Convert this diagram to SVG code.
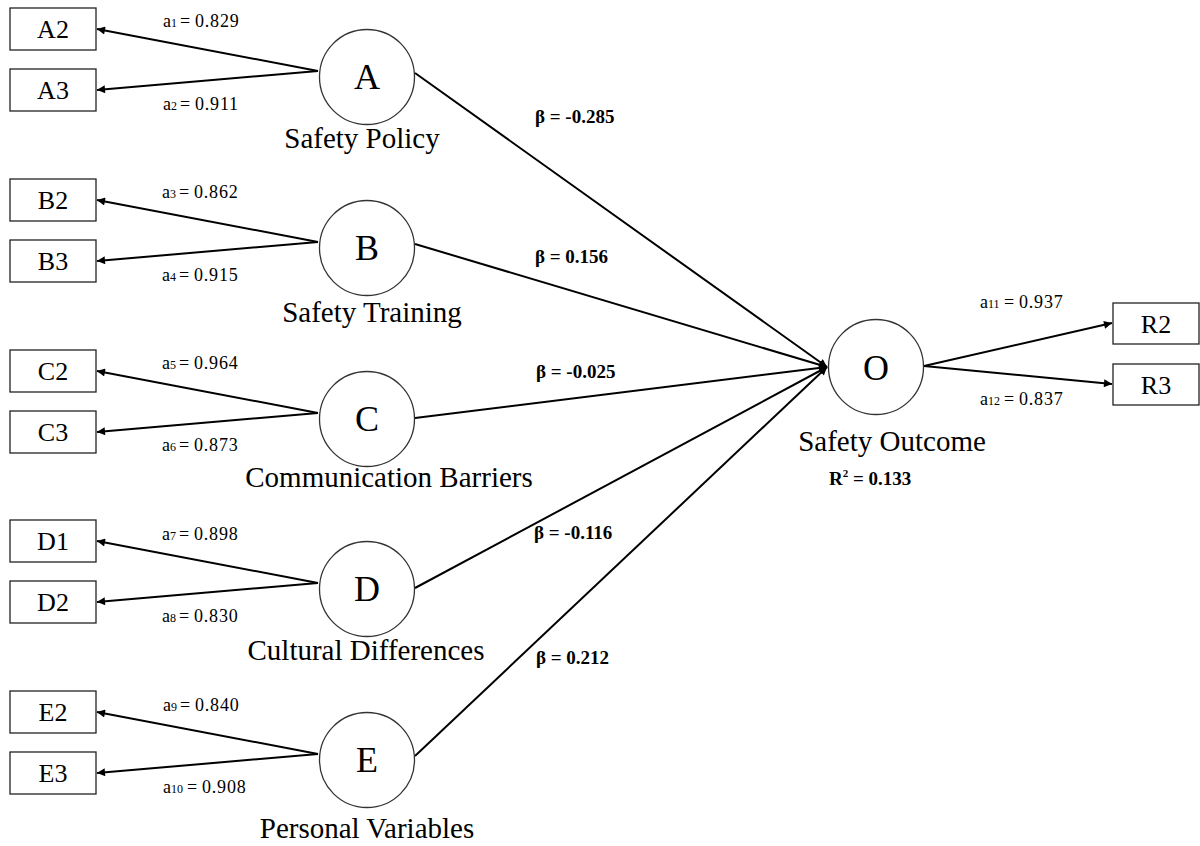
<svg xmlns="http://www.w3.org/2000/svg" width="1200" height="846" viewBox="0 0 1200 846">
  <style>
    .bg { fill: #ffffff; }
    .box { fill: #ffffff; stroke: #222222; stroke-width: 1.3; }
    .lat { fill: #ffffff; stroke: #333333; stroke-width: 1.3; }
    .edge { fill: none; stroke: #000000; stroke-width: 2; }
    .boxtxt { font-family: "Liberation Serif", "Times New Roman", serif; font-size: 26px; fill: #000000; text-anchor: middle; }
    .lettxt { font-family: "Liberation Serif", "Times New Roman", serif; font-size: 36px; fill: #000000; text-anchor: middle; }
    .name { font-family: "Liberation Serif", "Times New Roman", serif; font-size: 29px; fill: #000000; text-anchor: middle; }
    .load { font-family: "Liberation Serif", "Times New Roman", serif; font-size: 18px; fill: #000000; }
    .num { letter-spacing: 0.8px; }
    .sub { font-size: 12px; }
    .beta { font-family: "Liberation Serif", "Times New Roman", serif; font-size: 19px; font-weight: bold; fill: #000000; }
  </style>
  <defs>
    <marker id="arrow" viewBox="0 0 10 10" refX="10" refY="5" markerWidth="11" markerHeight="8" markerUnits="userSpaceOnUse" orient="auto">
      <path d="M0,0 L10,5 L0,10 z" fill="#000000"/>
    </marker>
  </defs>

  <rect class="bg" x="0" y="0" width="1200" height="846"/>

  <!-- connectors: loadings and structural paths -->
  <g id="connectors">
    <!-- A -->
    <line class="edge" x1="318" y1="71" x2="97" y2="29" marker-end="url(#arrow)"/>
    <line class="edge" x1="318" y1="71" x2="97" y2="90" marker-end="url(#arrow)"/>
    <!-- B -->
    <line class="edge" x1="318" y1="242" x2="97" y2="200" marker-end="url(#arrow)"/>
    <line class="edge" x1="318" y1="242" x2="97" y2="261" marker-end="url(#arrow)"/>
    <!-- C -->
    <line class="edge" x1="318" y1="413" x2="97" y2="371" marker-end="url(#arrow)"/>
    <line class="edge" x1="318" y1="413" x2="97" y2="432" marker-end="url(#arrow)"/>
    <!-- D -->
    <line class="edge" x1="318" y1="583" x2="97" y2="541" marker-end="url(#arrow)"/>
    <line class="edge" x1="318" y1="583" x2="97" y2="602" marker-end="url(#arrow)"/>
    <!-- E -->
    <line class="edge" x1="318" y1="754" x2="97" y2="712" marker-end="url(#arrow)"/>
    <line class="edge" x1="318" y1="754" x2="97" y2="773" marker-end="url(#arrow)"/>
    <!-- structural paths into O -->
    <line class="edge" x1="415" y1="73" x2="827" y2="367" marker-end="url(#arrow)"/>
    <line class="edge" x1="415" y1="244" x2="827" y2="367" marker-end="url(#arrow)"/>
    <line class="edge" x1="415" y1="418" x2="827" y2="367" marker-end="url(#arrow)"/>
    <line class="edge" x1="415" y1="588" x2="827" y2="367" marker-end="url(#arrow)"/>
    <line class="edge" x1="415" y1="756" x2="827" y2="367" marker-end="url(#arrow)"/>
    <!-- O loadings -->
    <line class="edge" x1="924" y1="366" x2="1112" y2="323" marker-end="url(#arrow)"/>
    <line class="edge" x1="924" y1="366" x2="1112" y2="384" marker-end="url(#arrow)"/>
  </g>

  <!-- loading labels -->
  <g id="loading-labels">
    <text class="load" x="163" y="27">a<tspan class="sub">1</tspan><tspan x="180">=</tspan><tspan class="num" x="195">0.829</tspan></text>
    <text class="load" x="163" y="110">a<tspan class="sub">2</tspan><tspan x="180">=</tspan><tspan class="num" x="195">0.911</tspan></text>
    <text class="load" x="162" y="198">a<tspan class="sub">3</tspan><tspan x="179">=</tspan><tspan class="num" x="194">0.862</tspan></text>
    <text class="load" x="162" y="281">a<tspan class="sub">4</tspan><tspan x="179">=</tspan><tspan class="num" x="194">0.915</tspan></text>
    <text class="load" x="162" y="369">a<tspan class="sub">5</tspan><tspan x="179">=</tspan><tspan class="num" x="194">0.964</tspan></text>
    <text class="load" x="162" y="451">a<tspan class="sub">6</tspan><tspan x="179">=</tspan><tspan class="num" x="194">0.873</tspan></text>
    <text class="load" x="162" y="540">a<tspan class="sub">7</tspan><tspan x="179">=</tspan><tspan class="num" x="194">0.898</tspan></text>
    <text class="load" x="162" y="622">a<tspan class="sub">8</tspan><tspan x="179">=</tspan><tspan class="num" x="194">0.830</tspan></text>
    <text class="load" x="163" y="711">a<tspan class="sub">9</tspan><tspan x="180">=</tspan><tspan class="num" x="195">0.840</tspan></text>
    <text class="load" x="163" y="793">a<tspan class="sub">10</tspan><tspan x="187">=</tspan><tspan class="num" x="202">0.908</tspan></text>
    <text class="load" x="980" y="308">a<tspan class="sub">11</tspan><tspan x="1004">=</tspan><tspan class="num" x="1019">0.937</tspan></text>
    <text class="load" x="980" y="405">a<tspan class="sub">12</tspan><tspan x="1004">=</tspan><tspan class="num" x="1019">0.837</tspan></text>
  </g>

  <!-- path coefficients -->
  <g id="path-labels">
    <text class="beta" x="535" y="123">β = -0.285</text>
    <text class="beta" x="535" y="263">β = 0.156</text>
    <text class="beta" x="536" y="378">β = -0.025</text>
    <text class="beta" x="534" y="539">β = -0.116</text>
    <text class="beta" x="536" y="664">β = 0.212</text>
  </g>

  <!-- indicators -->
  <g id="A2"><rect class="box" x="10" y="8" width="86" height="42"/><text class="boxtxt" x="53" y="38">A2</text></g>
  <g id="A3"><rect class="box" x="10" y="69" width="86" height="42"/><text class="boxtxt" x="53" y="99">A3</text></g>
  <g id="B2"><rect class="box" x="10" y="179" width="86" height="42"/><text class="boxtxt" x="53" y="209">B2</text></g>
  <g id="B3"><rect class="box" x="10" y="240" width="86" height="42"/><text class="boxtxt" x="53" y="270">B3</text></g>
  <g id="C2"><rect class="box" x="10" y="350" width="86" height="42"/><text class="boxtxt" x="53" y="380">C2</text></g>
  <g id="C3"><rect class="box" x="10" y="411" width="86" height="42"/><text class="boxtxt" x="53" y="441">C3</text></g>
  <g id="D1"><rect class="box" x="10" y="520" width="86" height="42"/><text class="boxtxt" x="53" y="550">D1</text></g>
  <g id="D2"><rect class="box" x="10" y="581" width="86" height="42"/><text class="boxtxt" x="53" y="611">D2</text></g>
  <g id="E2"><rect class="box" x="10" y="691" width="86" height="42"/><text class="boxtxt" x="53" y="721">E2</text></g>
  <g id="E3"><rect class="box" x="10" y="752" width="86" height="42"/><text class="boxtxt" x="53" y="782">E3</text></g>
  <g id="R2"><rect class="box" x="1113" y="303" width="86" height="41"/><text class="boxtxt" x="1156" y="333">R2</text></g>
  <g id="R3"><rect class="box" x="1113" y="364" width="86" height="41"/><text class="boxtxt" x="1156" y="394">R3</text></g>

  <!-- latent constructs -->
  <g id="A">
    <circle class="lat" cx="367" cy="77" r="47.5"/>
    <text class="lettxt" x="367" y="89">A</text>
    <text class="name" x="362" y="148">Safety Policy</text>
  </g>
  <g id="B">
    <circle class="lat" cx="367" cy="248" r="47.5"/>
    <text class="lettxt" x="367" y="260">B</text>
    <text class="name" x="372" y="322">Safety Training</text>
  </g>
  <g id="C">
    <circle class="lat" cx="367" cy="419" r="47.5"/>
    <text class="lettxt" x="367" y="431">C</text>
    <text class="name" x="389" y="487">Communication Barriers</text>
  </g>
  <g id="D">
    <circle class="lat" cx="367" cy="589" r="47.5"/>
    <text class="lettxt" x="367" y="601">D</text>
    <text class="name" x="366" y="660">Cultural Differences</text>
  </g>
  <g id="E">
    <circle class="lat" cx="367" cy="760" r="47.5"/>
    <text class="lettxt" x="367" y="772">E</text>
    <text class="name" x="367" y="838">Personal Variables</text>
  </g>
  <g id="O">
    <circle class="lat" cx="876" cy="367" r="47.5"/>
    <text class="lettxt" x="876" y="380">O</text>
    <text class="name" x="892" y="451">Safety Outcome</text>
    <text class="beta" x="829" y="485">R<tspan font-size="11" dy="-8">2</tspan><tspan dy="8"> = 0.133</tspan></text>
  </g>
</svg>
